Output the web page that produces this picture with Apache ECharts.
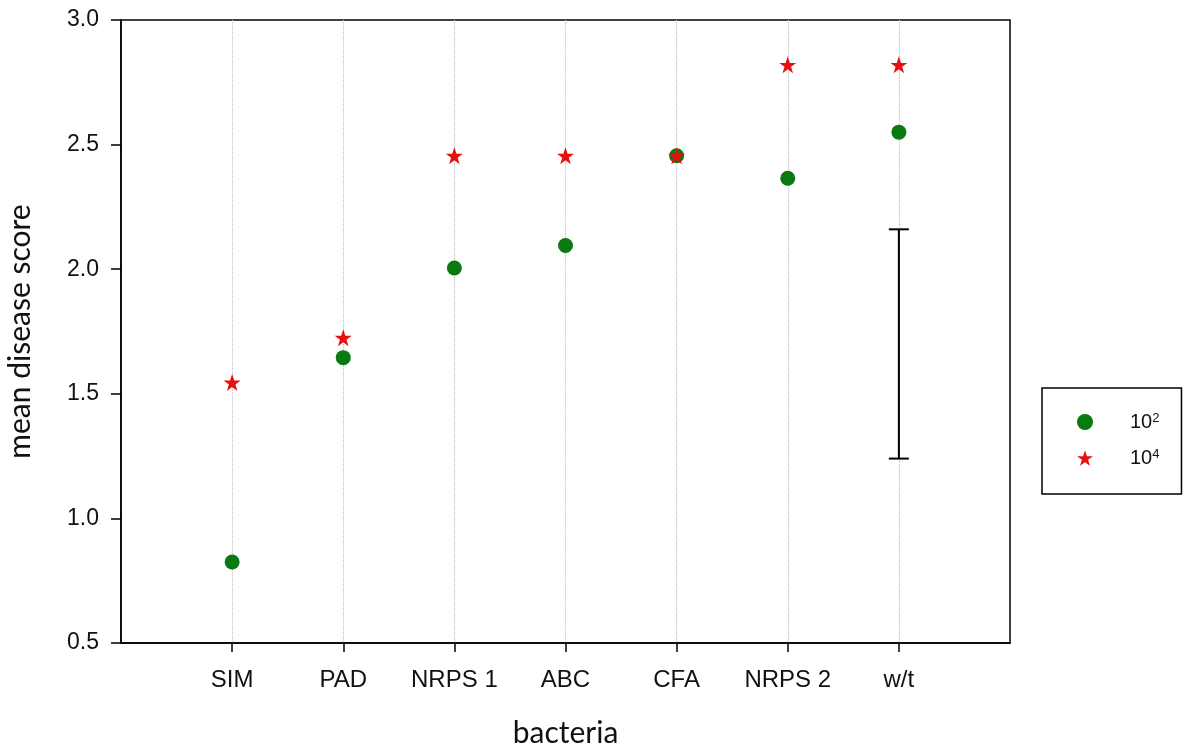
<!DOCTYPE html>
<html>
<head>
<meta charset="utf-8">
<script src="https://cdn.jsdelivr.net/npm/echarts@6/dist/echarts.min.js"></script>
<style>
  html, body { margin: 0; padding: 0; background: #fff; }
  #chart { width: 1186px; height: 748px; }
</style>
</head>
<body>
<div id="chart"></div>
<script>
// bacteria on the x axis, blank slots pad both ends
var categories = ['', 'SIM', 'PAD', 'NRPS 1', 'ABC', 'CFA', 'NRPS 2', 'w/t', ''];
var bacteria = ['SIM', 'PAD', 'NRPS 1', 'ABC', 'CFA', 'NRPS 2', 'w/t'];
var dose2 = [0.825, 1.645, 2.005, 2.095, 2.455, 2.365, 2.55];   // 10^2
var dose4 = [1.545, 1.725, 2.455, 2.455, 2.455, 2.82, 2.82];    // 10^4
var yTicks = [0.5, 1.0, 1.5, 2.0, 2.5, 3.0];
// error bar drawn at w/t (low, high)
var errBar = [['w/t', 1.24, 2.16]];

var STAR = 'path://M12,0 L14.8,8.6 L23.4,8.6 L16.4,13.8 L19.1,22.4 L12,17.1 L4.9,22.4 L7.6,13.8 L0.6,8.6 L9.2,8.6 Z';

var chart = echarts.init(document.getElementById('chart'));
var edge = function (i) { return i > 0 && i < categories.length - 1; };

var pairs = function (vals) {
  return bacteria.map(function (b, i) { return [b, vals[i]]; });
};

var option = {
  animation: false,
  backgroundColor: '#fff',
  grid: {
    left: 121, right: 176, top: 20, bottom: 105,
    outerBoundsMode: 'none',
    show: true, borderColor: '#000', borderWidth: 1.5
  },
  xAxis: {
    type: 'category',
    data: categories,
    boundaryGap: false,
    name: 'bacteria',
    nameLocation: 'middle',
    nameGap: 75,
    nameTextStyle: { fontFamily: 'Lato', fontSize: 30, color: '#111' },
    axisLine: { lineStyle: { color: '#000', width: 1.5 } },
    axisTick: { interval: function (i) { return edge(i); }, length: 9, lineStyle: { color: '#000', width: 1.5 } },
    axisLabel: { interval: 0, hideOverlap: false, margin: 25, fontFamily: 'Liberation Sans', fontSize: 24, color: '#111' },
    splitLine: { show: true, interval: function (i) { return edge(i); }, lineStyle: { color: '#bbb', type: 'dotted', width: 1.2 } }
  },
  yAxis: {
    type: 'value',
    min: yTicks[0],
    max: yTicks[yTicks.length - 1],
    interval: 0.5,
    name: 'mean disease score',
    nameLocation: 'middle',
    nameGap: 86,
    nameRotate: 90,
    nameTextStyle: { fontFamily: 'Lato', fontSize: 30, color: '#111' },
    axisLine: { show: true, lineStyle: { color: '#000', width: 1.5 } },
    axisTick: { show: true, length: 10, lineStyle: { color: '#000', width: 1.5 } },
    axisLabel: { margin: 22, fontFamily: 'Liberation Sans', fontSize: 23, color: '#111',
      formatter: function (v) { return v.toFixed(1); } },
    splitLine: { show: false }
  },
  legend: {
    orient: 'vertical',
    left: 1042, top: 388,
    padding: [24, 22, 26, 35],
    itemWidth: 16, itemHeight: 16, itemGap: 16,
    borderColor: '#000', borderWidth: 1.5,
    formatter: function (n) { return '10{s|' + (n === '10²' ? '2' : '4') + '}'; },
    textStyle: {
      fontFamily: 'Liberation Sans', fontSize: 20, color: '#111', padding: [0, 0, 0, 32],
      rich: { s: { fontFamily: 'Liberation Sans', fontSize: 13, color: '#111', verticalAlign: 'top', padding: [0, 0, 7, 0] } }
    },
    data: [
      { name: '10²', icon: 'circle' },
      { name: '10⁴', icon: STAR }
    ]
  },
  series: [
    {
      name: '10²',
      type: 'scatter',
      symbol: 'circle',
      symbolSize: 15,
      itemStyle: { color: '#087a10', opacity: 1 },
      data: pairs(dose2),
      z: 3
    },
    {
      name: '10⁴',
      type: 'scatter',
      symbol: STAR,
      symbolSize: 17,
      itemStyle: { color: '#e51010', opacity: 1 },
      data: pairs(dose4),
      z: 4
    },
    {
      type: 'custom',
      name: 'err',
      data: errBar,
      silent: true,
      renderItem: function (params, api) {
        var lo = api.coord([api.value(0), api.value(1)]);
        var hi = api.coord([api.value(0), api.value(2)]);
        var w = 10;
        var st = { stroke: '#000', lineWidth: 2 };
        return {
          type: 'group',
          children: [
            { type: 'line', shape: { x1: lo[0], y1: lo[1], x2: hi[0], y2: hi[1] }, style: st },
            { type: 'line', shape: { x1: hi[0] - w, y1: hi[1], x2: hi[0] + w, y2: hi[1] }, style: st },
            { type: 'line', shape: { x1: lo[0] - w, y1: lo[1], x2: lo[0] + w, y2: lo[1] }, style: st }
          ]
        };
      },
      z: 2
    }
  ]
};
chart.setOption(option);
</script>
</body>
</html>
